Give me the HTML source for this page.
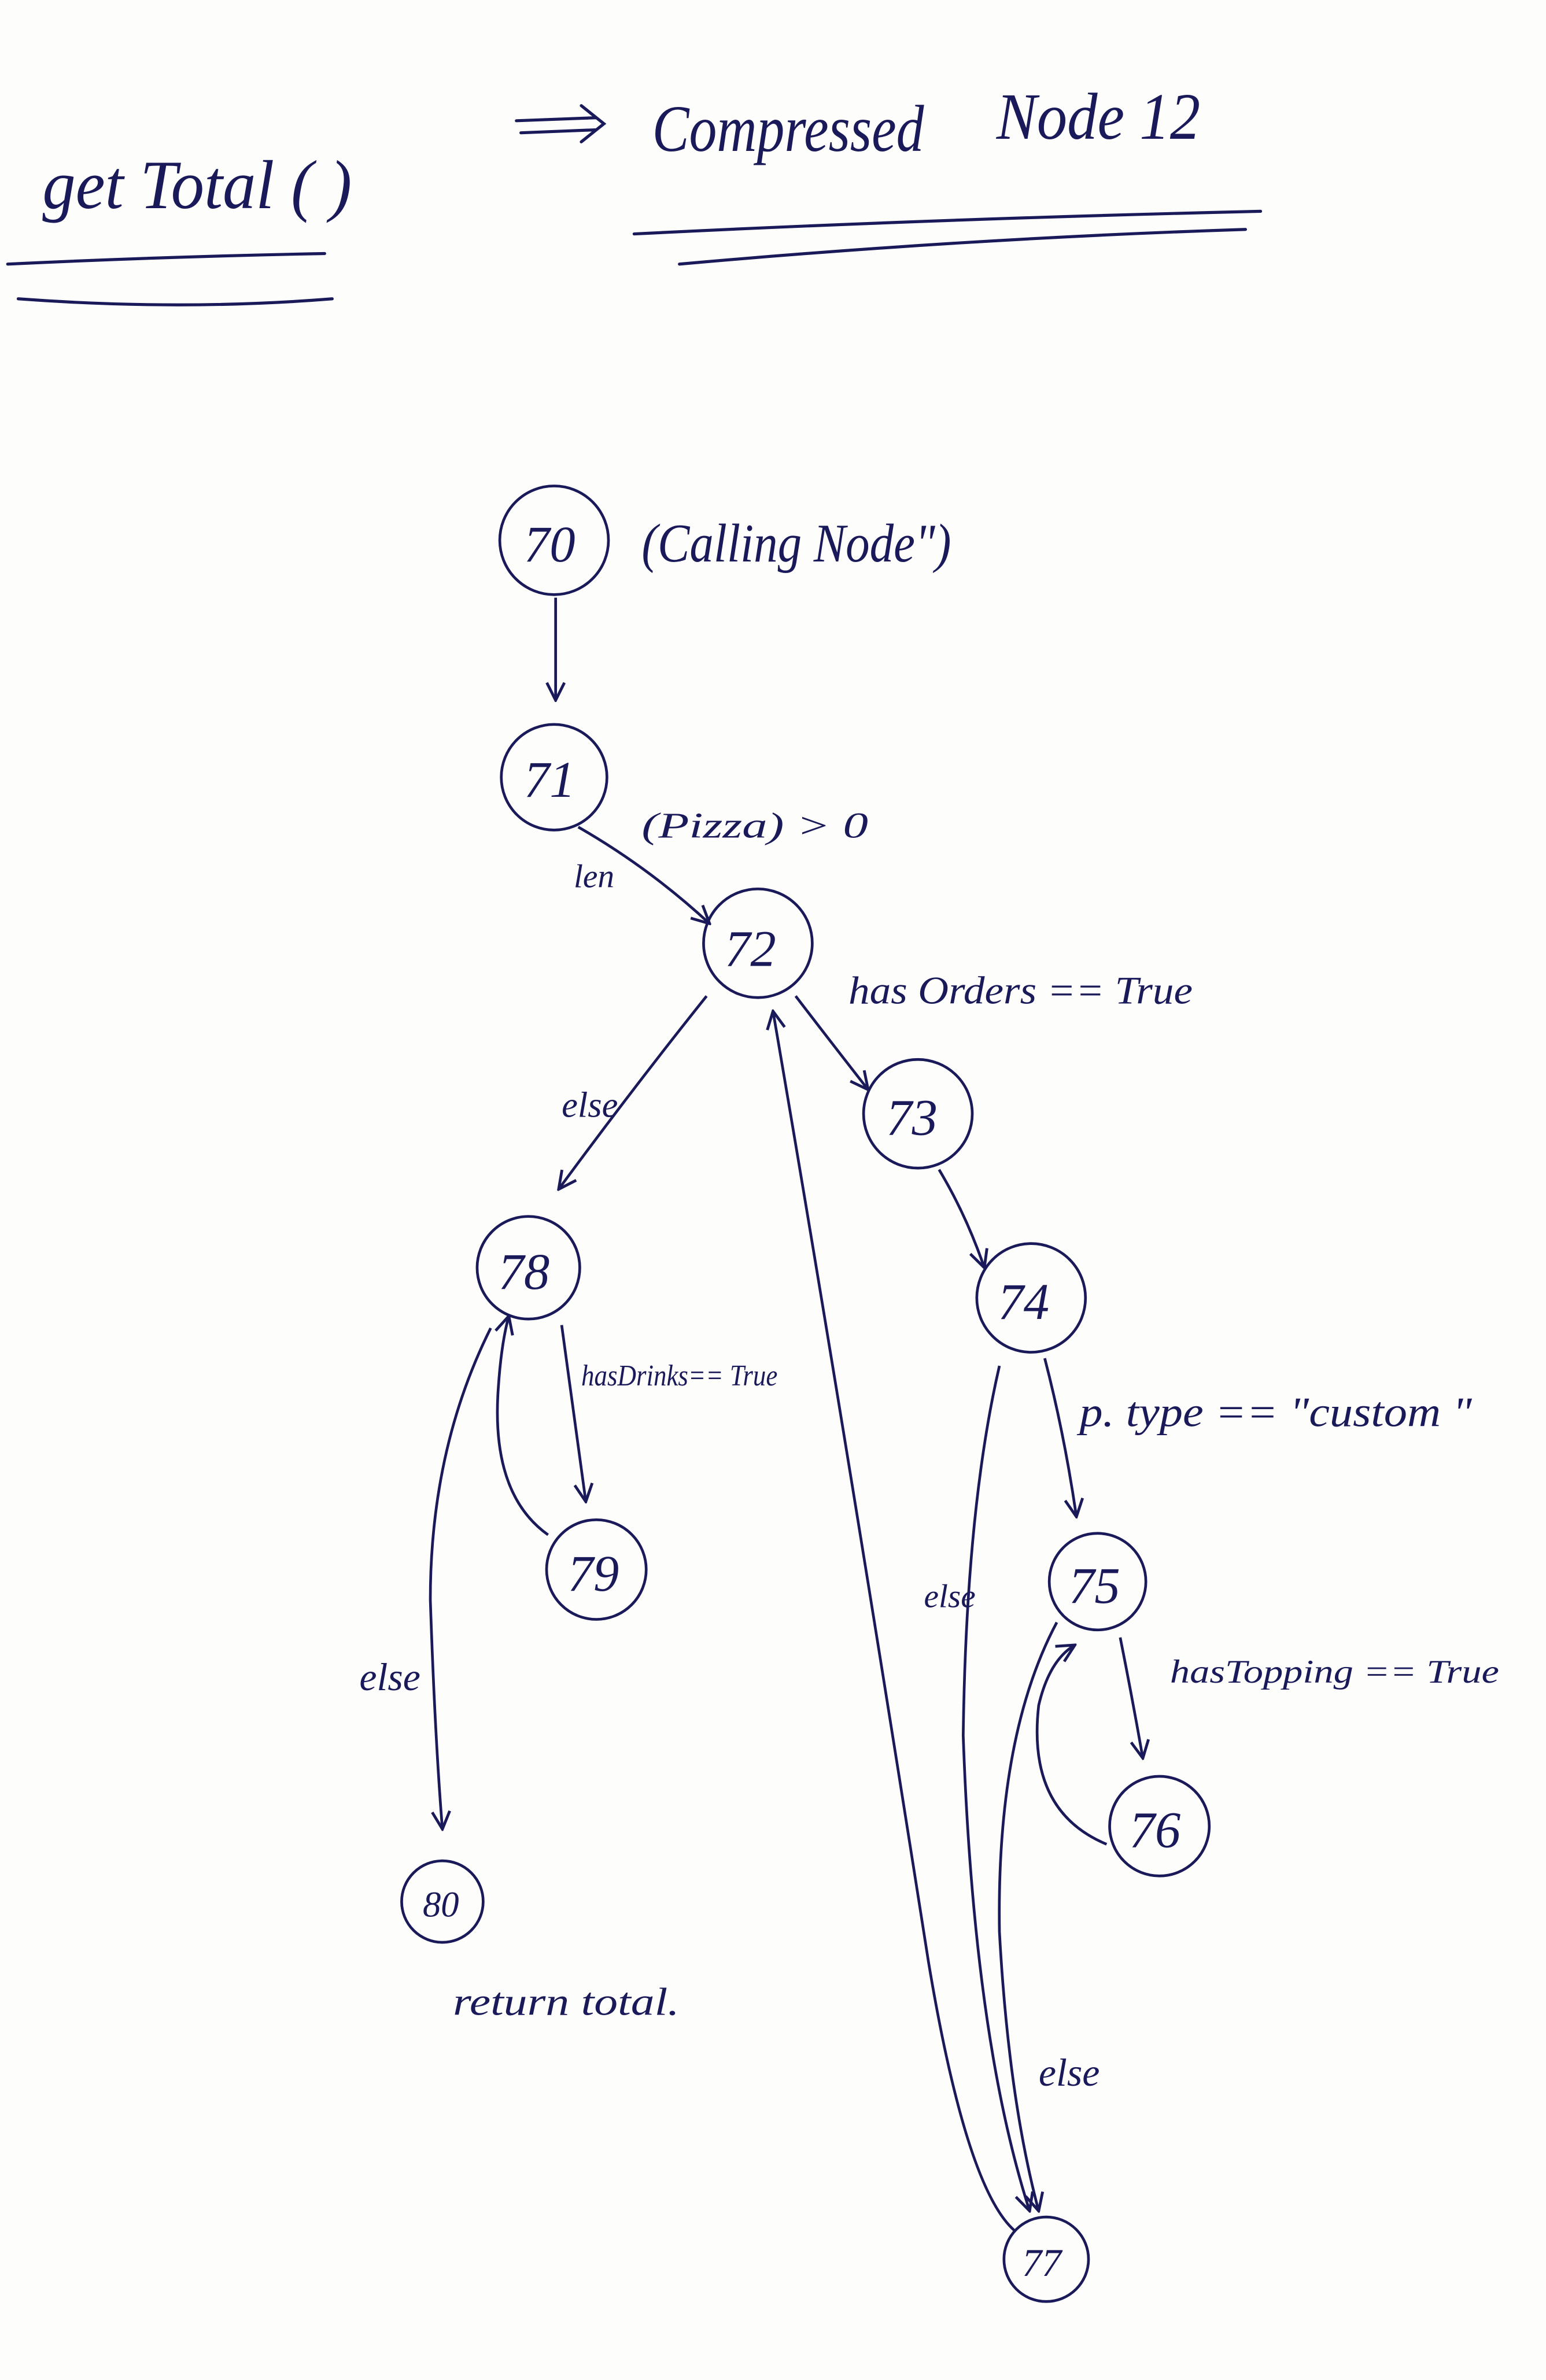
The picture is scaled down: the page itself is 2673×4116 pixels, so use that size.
<!DOCTYPE html>
<html><head><meta charset="utf-8">
<style>
html,body{margin:0;padding:0;background:#fdfdfb;}
svg{display:block;}
text{font-family:"Liberation Serif",serif;font-style:italic;fill:#1a1a5a;}
</style></head>
<body>
<svg width="2673" height="4116" viewBox="0 0 1024 1577" xmlns="http://www.w3.org/2000/svg">
<defs>
<marker id="a" viewBox="0 0 12 12" refX="11" refY="6" markerWidth="14" markerHeight="14" orient="auto" markerUnits="userSpaceOnUse">
<path d="M1,1 L11,6 L1,11" fill="none" stroke="#1a1a5a" stroke-width="1.6"/>
</marker>
</defs>
<rect width="1024" height="1577" fill="#fdfdfb"/>
<g stroke="#1a1a5a" stroke-width="2" fill="none" stroke-linecap="round">
<path d="M5,175 Q110,170 215,168"/>
<path d="M12,198 Q120,206 220,198"/>
<path d="M420,155 Q620,145 835,140"/>
<path d="M450,175 Q640,158 825,152"/>
<path d="M342,80 L395,78 M345,88 L395,86 M385,70 L400,82 L385,94"/>
</g>
<g stroke="#1a1a5a" stroke-width="1.8" fill="none">
<circle cx="367" cy="358" r="36"/>
<circle cx="367" cy="515" r="35"/>
<circle cx="502" cy="625" r="36"/>
<circle cx="608" cy="738" r="36"/>
<circle cx="683" cy="860" r="36"/>
<circle cx="727" cy="1048" r="32"/>
<circle cx="768" cy="1210" r="33"/>
<circle cx="350" cy="840" r="34"/>
<circle cx="395" cy="1040" r="33"/>
<circle cx="293" cy="1260" r="27"/>
<circle cx="693" cy="1497" r="28"/>
</g>
<g stroke="#1a1a5a" stroke-width="1.8" fill="none" marker-end="url(#a)">
<path d="M368,396 L368,464"/>
<path d="M383,548 Q430,575 470,612"/>
<path d="M527,660 Q550,690 575,722"/>
<path d="M468,660 Q420,720 370,788"/>
<path d="M622,775 Q640,805 652,840"/>
<path d="M692,900 Q705,950 713,1005"/>
<path d="M742,1085 Q750,1125 757,1165"/>
<path d="M733,1222 Q680,1200 688,1130 Q695,1100 712,1090"/>
<path d="M372,878 Q380,935 388,995"/>
<path d="M363,1017 Q325,990 330,920 Q332,890 337,872"/>
<path d="M325,880 Q285,960 285,1060 Q288,1150 293,1212"/>
<path d="M662,905 Q640,1000 638,1150 Q645,1350 682,1465"/>
<path d="M700,1075 Q660,1150 662,1280 Q668,1390 688,1465"/>
<path d="M672,1478 Q640,1450 615,1300 Q560,950 512,670"/>
</g>
<g font-size="34">
<text x="347" y="372">70</text>
<text x="347" y="528">71</text>
<text x="480" y="640">72</text>
<text x="587" y="752">73</text>
<text x="661" y="874">74</text>
<text x="708" y="1062">75</text>
<text x="748" y="1224">76</text>
<text x="330" y="854">78</text>
<text x="376" y="1054">79</text>
<text x="280" y="1270" font-size="24">80</text>
<text x="677" y="1508" font-size="26">77</text>
</g>
<g>
<text x="28" y="138" font-size="46" textLength="205" lengthAdjust="spacingAndGlyphs">get Total ( )</text>
<text x="432" y="100" font-size="44" textLength="180" lengthAdjust="spacingAndGlyphs">Compressed</text>
<text x="660" y="92" font-size="44" textLength="135" lengthAdjust="spacingAndGlyphs">Node 12</text>
<text x="425" y="372" font-size="36" textLength="205" lengthAdjust="spacingAndGlyphs">(Calling  Node")</text>
<text x="425" y="555" font-size="24" textLength="150" lengthAdjust="spacingAndGlyphs">(Pizza) &gt; 0</text>
<text x="380" y="588" font-size="22">len</text>
<text x="562" y="665" font-size="26" textLength="228" lengthAdjust="spacingAndGlyphs">has Orders == True</text>
<text x="372" y="740" font-size="24">else</text>
<text x="385" y="918" font-size="20" textLength="130" lengthAdjust="spacingAndGlyphs">hasDrinks== True</text>
<text x="715" y="945" font-size="28" textLength="260" lengthAdjust="spacingAndGlyphs">p. type == "custom "</text>
<text x="775" y="1115" font-size="22" textLength="218" lengthAdjust="spacingAndGlyphs">hasTopping  ==  True</text>
<text x="612" y="1065" font-size="22">else</text>
<text x="238" y="1120" font-size="26">else</text>
<text x="688" y="1382" font-size="26">else</text>
<text x="300" y="1335" font-size="26" textLength="150" lengthAdjust="spacingAndGlyphs">return total.</text>
</g>
</svg>
</body></html>
